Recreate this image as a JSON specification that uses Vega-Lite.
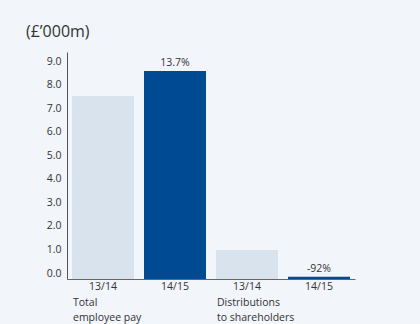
{
  "$schema": "https://vega.github.io/schema/vega-lite/v6.json",
  "autosize": "none",
  "width": 288,
  "height": 227,
  "padding": {"left": 67, "top": 52, "right": 65, "bottom": 45},
  "background": "#f2f5fa",
  "config": {
    "view": {"stroke": null},
    "font": "Open Sans",
    "text": {"font": "Open Sans", "fontSize": 10.5, "color": "#333333"}
  },
  "title": {
    "text": "(£’000m)",
    "anchor": "start",
    "frame": "group",
    "dx": -41,
    "offset": 12,
    "fontSize": 16,
    "fontWeight": "normal",
    "font": "Open Sans",
    "color": "#333333"
  },
  "data": {
    "values": [
      {"k": "a", "year": "13/14", "value": 7.77, "pct": "", "group": "Total\nemployee pay"},
      {"k": "b", "year": "14/15", "value": 8.83, "pct": "13.7%", "group": ""},
      {"k": "c", "year": "13/14", "value": 1.23, "pct": "", "group": "Distributions\nto shareholders"},
      {"k": "d", "year": "14/15", "value": 0.1, "pct": "-92%", "group": ""}
    ]
  },
  "encoding": {
    "x": {
      "field": "k",
      "type": "nominal",
      "scale": {"paddingInner": 0.139, "paddingOuter": 0.0694},
      "axis": {
        "title": null,
        "labelAngle": 0,
        "ticks": false,
        "domainColor": "#666666",
        "labelColor": "#333333",
        "labelFontSize": 10.5,
        "labelFont": "Open Sans",
        "labelPadding": 2,
        "labelExpr": "indexof(['a','c'], datum.value) >= 0 ? '13/14' : '14/15'"
      }
    },
    "y": {
      "field": "value",
      "type": "quantitative",
      "scale": {"domain": [0, 9.64], "nice": false},
      "axis": {
        "title": null,
        "values": [0, 1, 2, 3, 4, 5, 6, 7, 8, 9],
        "format": ".1f",
        "grid": false,
        "ticks": false,
        "domainColor": "#555555",
        "labelColor": "#333333",
        "labelFontSize": 10.5,
        "labelFont": "Open Sans",
        "labelPadding": 6,
        "labelBaseline": "middle",
        "labelOffset": -6
      }
    }
  },
  "layer": [
    {
      "mark": {"type": "bar"},
      "encoding": {
        "color": {
          "field": "year",
          "type": "nominal",
          "scale": {"domain": ["13/14", "14/15"], "range": ["#d9e3ee", "#004a94"]},
          "legend": null
        }
      }
    },
    {
      "mark": {"type": "text", "baseline": "bottom", "dy": -3},
      "encoding": {"text": {"field": "pct"}}
    },
    {
      "mark": {"type": "text", "align": "left", "baseline": "top", "dx": 1, "lineBreak": "\n", "lineHeight": 15},
      "encoding": {
        "x": {"field": "k", "type": "nominal", "bandPosition": 0},
        "y": {"datum": -0.8},
        "text": {"field": "group"}
      }
    }
  ]
}
